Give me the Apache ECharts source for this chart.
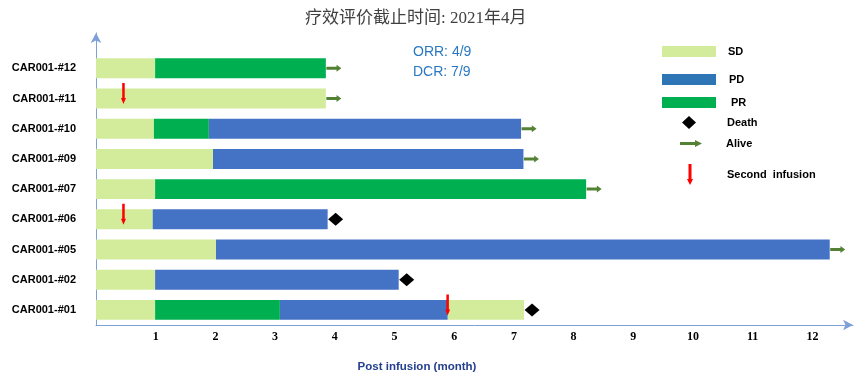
<!DOCTYPE html>
<html>
<head>
<meta charset="utf-8">
<script src="https://cdn.jsdelivr.net/npm/echarts@6/dist/echarts.min.js"></script>
<style>html,body{margin:0;padding:0;background:#fff}#c{width:864px;height:381px}</style>
</head>
<body>
<div id="c"></div>
<script>
// Patients, top to bottom
const patients = ['CAR001-#12','CAR001-#11','CAR001-#10','CAR001-#09','CAR001-#07','CAR001-#06','CAR001-#05','CAR001-#02','CAR001-#01'];
// Segments: [patient, start month, end month]
const sdSegments = [
  ['CAR001-#12', 0, 0.99], ['CAR001-#11', 0, 3.85], ['CAR001-#10', 0, 0.97],
  ['CAR001-#09', 0, 1.96], ['CAR001-#07', 0, 0.99], ['CAR001-#06', 0, 0.95],
  ['CAR001-#05', 0, 2.01], ['CAR001-#02', 0, 0.99], ['CAR001-#01', 0, 0.99],
  ['CAR001-#01', 5.89, 7.17]
];
const prSegments = [
  ['CAR001-#12', 0.99, 3.85], ['CAR001-#10', 0.97, 1.89],
  ['CAR001-#07', 0.99, 8.21], ['CAR001-#01', 0.99, 3.08]
];
const pdSegments = [
  ['CAR001-#10', 1.89, 7.12], ['CAR001-#09', 1.96, 7.16], ['CAR001-#06', 0.95, 3.88],
  ['CAR001-#05', 2.01, 12.29], ['CAR001-#02', 0.99, 5.07], ['CAR001-#01', 3.08, 5.89]
];
// Events: [patient, month]
const deathEvents = [['CAR001-#06', 3.88], ['CAR001-#02', 5.07], ['CAR001-#01', 7.17]];
const aliveEvents = [['CAR001-#12', 3.85], ['CAR001-#11', 3.85], ['CAR001-#10', 7.12],
  ['CAR001-#09', 7.16], ['CAR001-#07', 8.21], ['CAR001-#05', 12.29]];
const secondInfusion = [['CAR001-#11', 0.46], ['CAR001-#06', 0.46], ['CAR001-#01', 5.89]];
const xTickLabels = [1,2,3,4,5,6,7,8,9,10,11,12];
const titleText = '疗效评价截止时间: 2021年4月';
const rateText = 'ORR: 4/9\nDCR: 7/9';

const rowOf = name => patients.length - 1 - patients.indexOf(name);
const segData = arr => arr.map(s => [s[1], s[2], rowOf(s[0])]);
const evtData = arr => arr.map(e => [e[1], rowOf(e[0])]);

const ARROW_RIGHT = 'path://M0,2L15,2L15,0L22,3.5L15,7L15,5L0,5Z';
const ARROW_DOWN = 'path://M1.5,0L4.5,0L4.5,15L6,15L3,21L0,15L1.5,15Z';
const FONT = 'Liberation Sans';

function renderBar(params, api) {
  const s = api.coord([api.value(0), api.value(2)]);
  const e = api.coord([api.value(1), api.value(2)]);
  const h = api.size([0, 1])[1] * 0.66;
  return { type: 'rect', shape: { x: s[0], y: s[1] - h / 2, width: e[0] - s[0], height: h }, style: api.style() };
}
function barSeries(name, color, data) {
  return { name, type: 'custom', renderItem: renderBar, data: segData(data),
    encode: { x: [0, 1], y: 2 }, itemStyle: { color }, z: 2 };
}
function legendAt(left, top, item, padLeft, itemWidth, itemHeight) {
  return { top, left, padding: 0, itemWidth, itemHeight, selectedMode: false, symbolKeepAspect: false, data: [item],
    textStyle: { fontFamily: FONT, fontWeight: 'bold', fontSize: 11, color: '#000', padding: [0, 0, 0, padLeft] } };
}

const chart = echarts.init(document.getElementById('c'));
chart.setOption({
  animation: false,
  title: [
    { text: titleText, left: 305, top: 10, padding: 0,
      textStyle: { fontFamily: 'Liberation Serif, Noto Sans CJK SC', fontWeight: 'normal', fontSize: 17, color: '#404040' } },
    { text: rateText, left: 413, top: 42, padding: 0,
      textStyle: { fontFamily: FONT, fontWeight: 'normal', fontSize: 14, lineHeight: 20, color: '#2a78c2' } }
  ],
  grid: { left: 96, right: 11, top: 33, bottom: 56 },
  xAxis: {
    type: 'value', min: 0, max: 12.68, interval: 1,
    name: 'Post infusion (month)', nameLocation: 'middle', nameGap: 36,
    nameTextStyle: { fontFamily: FONT, fontWeight: 'bold', fontSize: 11.5, color: '#24408e', padding: [0, 115, 0, 0] },
    axisLine: { show: true, onZero: false, symbol: ['none', 'arrow'], symbolSize: [8, 10], lineStyle: { color: '#7f9fd8', width: 1 } },
    axisTick: { show: false }, splitLine: { show: false },
    axisLabel: { margin: 6, fontFamily: 'Liberation Serif', fontWeight: 'bold', fontSize: 12, color: '#000',
      showMaxLabel: false, formatter: v => xTickLabels.includes(v) ? String(v) : '' }
  },
  yAxis: {
    type: 'value', min: -0.5, max: 9.17, interval: 0.5,
    axisLine: { show: true, onZero: false, symbol: ['none', 'arrow'], symbolSize: [8, 10], lineStyle: { color: '#7f9fd8', width: 1 } },
    axisTick: { show: false }, splitLine: { show: false },
    axisLabel: { margin: 20, fontFamily: FONT, fontWeight: 'bold', fontSize: 11, color: '#000',
      showMaxLabel: false,
      formatter: v => (Number.isInteger(v) && v >= 0 && v < patients.length) ? patients[patients.length - 1 - v] : '' }
  },
  legend: [
    legendAt(662, 46, { name: 'SD', icon: 'rect' }, 7, 54, 11),
    legendAt(662, 74, { name: 'PD', icon: 'rect', itemStyle: { color: '#2e75b6' } }, 8, 54, 11),
    legendAt(662, 97, { name: 'PR', icon: 'rect' }, 10, 54, 11),
    legendAt(682, 116, { name: 'Death', icon: 'diamond' }, 26, 14, 13),
    legendAt(680, 138, { name: 'Alive', icon: ARROW_RIGHT }, 19, 22, 7),
    legendAt(687, 164, { name: 'Second  infusion', icon: ARROW_DOWN }, 29, 6, 21)
  ],
  series: [
    barSeries('SD', '#d2ec9c', sdSegments),
    barSeries('PD', '#4472c4', pdSegments),
    barSeries('PR', '#00b050', prSegments),
    { name: 'Death', type: 'scatter', data: evtData(deathEvents), symbol: 'diamond',
      symbolSize: [15, 13], symbolOffset: [8, 0], itemStyle: { color: '#000', opacity: 1 }, z: 3 },
    { name: 'Alive', type: 'scatter', data: evtData(aliveEvents), symbol: ARROW_RIGHT,
      symbolSize: [15, 7], symbolOffset: [8, 0], itemStyle: { color: '#548235', opacity: 1 }, z: 3 },
    { name: 'Second  infusion', type: 'scatter', data: evtData(secondInfusion), symbol: ARROW_DOWN,
      symbolSize: [5, 21], symbolOffset: [0, -5], itemStyle: { color: '#ff0000', opacity: 1 }, z: 4 }
  ]
});
</script>
</body>
</html>
